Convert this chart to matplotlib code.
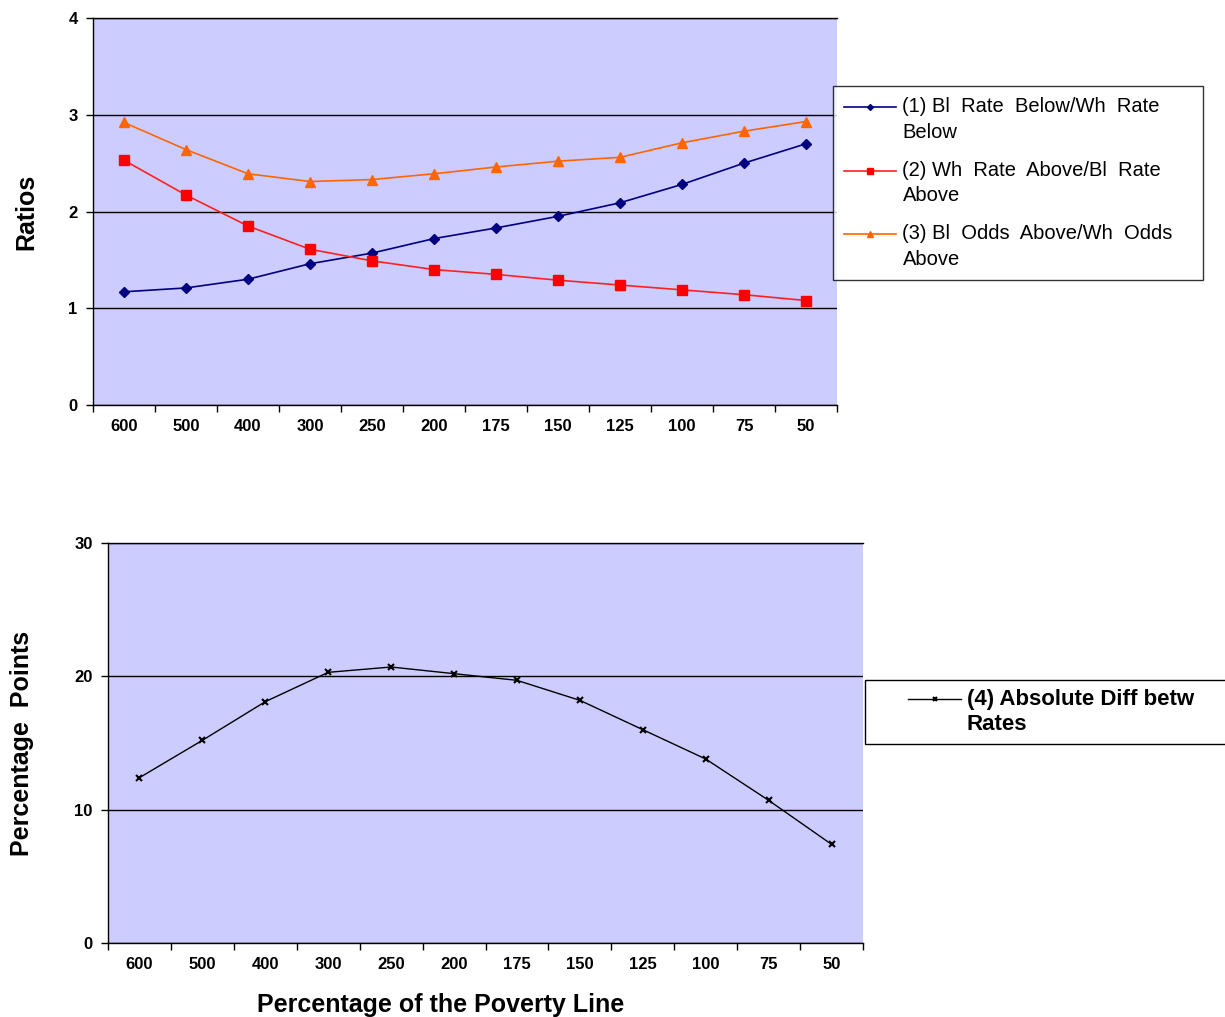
import matplotlib.pyplot as plt
from matplotlib.patches import Rectangle
from matplotlib.transforms import Affine2D
import numpy as np

plt.rcParams["font.family"] = ["Liberation Sans", "DejaVu Sans"]

categories = ["600", "500", "400", "300", "250", "200", "175", "150", "125", "100", "75", "50"]

bl_below_wh_below = [1.17, 1.21, 1.30, 1.46, 1.57, 1.72, 1.83, 1.95, 2.09, 2.28, 2.50, 2.70]
wh_above_bl_above = [2.53, 2.17, 1.85, 1.61, 1.49, 1.40, 1.35, 1.29, 1.24, 1.19, 1.14, 1.08]
bl_odds_wh_odds = [2.92, 2.64, 2.39, 2.31, 2.33, 2.39, 2.46, 2.52, 2.56, 2.71, 2.83, 2.93]
abs_diff = [12.4, 15.2, 18.1, 20.3, 20.7, 20.2, 19.7, 18.2, 16.0, 13.8, 10.7, 7.4]

BG = "#CCCCFF"
W, H = 1225, 1017
x = np.arange(len(categories))

fig = plt.figure(figsize=(W / 100, H / 100), dpi=100)
ax1 = fig.add_axes([93 / W, 1 - 405 / H, 744 / W, 387 / H])
ax2 = fig.add_axes([108 / W, 1 - 943 / H, 755 / W, 400 / H])


def style_axes(ax, ymax, ystep, ylabel):
    ax.set_facecolor(BG)
    ax.set_xlim(-0.5, len(categories) - 0.5)
    ax.set_ylim(0, ymax)
    ax.set_yticks(np.arange(0, ymax + ystep / 2, ystep))
    ax.yaxis.grid(True, color="black", lw=1)
    ax.set_axisbelow(True)
    ax.set_xticks(x)
    ax.set_xticklabels(categories)
    ax.set_xticks(np.arange(-0.5, len(categories)), minor=True)
    ax.tick_params(axis="x", which="major", length=0, pad=10)
    ax.tick_params(axis="x", which="minor", length=5, width=1, direction="out")
    ax.tick_params(axis="y", length=5, width=1, direction="out", pad=6)
    for lab in ax.get_xticklabels() + ax.get_yticklabels():
        lab.set_fontweight("bold")
        lab.set_fontsize(12)
    ax.spines["right"].set_visible(False)
    for s in ("left", "bottom", "top"):
        ax.spines[s].set_color("black")
        ax.spines[s].set_linewidth(1)
    ax.set_ylabel(ylabel, fontsize=18, fontweight="bold")


def lift_handles(leg, dy):
    # put the legend keys level with the first line of each two-line label
    for column in leg._legend_handle_box.get_children():
        for entry in column.get_children():
            for art in entry.get_children()[0].get_children():
                art.set_transform(art.get_transform() + Affine2D().translate(0, dy))


style_axes(ax1, 4, 1, "Ratios")
ax1.yaxis.set_label_coords(-0.074, 0.5)
ax1.plot(x, bl_below_wh_below, color="#000080", lw=1.2, marker="D", ms=5,
         label="(1) Bl  Rate  Below/Wh  Rate\nBelow")
ax1.plot(x, wh_above_bl_above, color="#FF2020", lw=1.2, marker="s", ms=6.5,
         mfc="#FF0000", mec="#FF0000", label="(2) Wh  Rate  Above/Bl  Rate\nAbove")
ax1.plot(x, bl_odds_wh_odds, color="#FF6600", lw=1.2, marker="^", ms=7,
         label="(3) Bl  Odds  Above/Wh  Odds\nAbove")
leg1 = fig.legend(handles=ax1.get_lines(), loc="upper left", mode="expand",
                  bbox_to_anchor=(833 / W, 1 - 273 / H, 370 / W, 187 / H),
                  fontsize=14.5, frameon=True, fancybox=False, edgecolor="black",
                  handlelength=2.6, handletextpad=0.3, borderpad=0.55,
                  borderaxespad=0, labelspacing=0.95, markerscale=0.6)
leg1.get_frame().set_linewidth(1)
for t in leg1.get_texts():
    t.set_linespacing(1.43)
lift_handles(leg1, 12.5)

style_axes(ax2, 30, 10, "Percentage  Points")
ax2.yaxis.set_label_coords(-0.098, 0.5)
ax2.plot(x, abs_diff, color="black", lw=1, marker="x", ms=5, mew=1.5,
         label="(4) Absolute Diff betw\nRates")
ax2.set_xlabel("Percentage of the Poverty Line", fontsize=18, fontweight="bold")
ax2.xaxis.set_label_coords(0.44, -0.125)

# legend box for series 4 runs off the right edge of the figure
fig.patches.append(Rectangle((865 / W, 1 - 744 / H), 400 / W, 64 / H,
                             transform=fig.transFigure, facecolor="white",
                             edgecolor="black", lw=1, zorder=1))
leg2 = fig.legend(handles=ax2.get_lines(), loc="center left",
                  bbox_to_anchor=(908 / W, 1 - 712 / H),
                  frameon=False, handlelength=2.4, handletextpad=0.25,
                  borderpad=0, borderaxespad=0, markerscale=0.6,
                  prop={"weight": "bold", "size": 16})
leg2.set_zorder(2)
lift_handles(leg2, 13)

fig.savefig("out.png", dpi=100, facecolor="white")
